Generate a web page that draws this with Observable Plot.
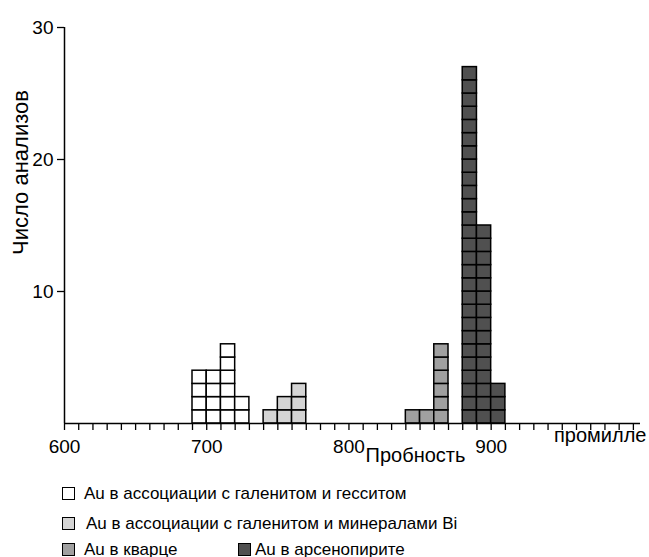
<!DOCTYPE html>
<html><head><meta charset="utf-8">
<script src="https://cdn.jsdelivr.net/npm/d3@7"></script>
<script src="https://cdn.jsdelivr.net/npm/@observablehq/plot@0.6"></script>
<style>
html,body{margin:0;padding:0;background:#fff;overflow:hidden;}
#wrap{width:649px;height:557px;position:relative;font-family:"Liberation Sans",Arial,sans-serif;color:#000;}
#chart{position:absolute;left:0;top:0;}
.leg{position:absolute;font-size:17px;line-height:17px;white-space:nowrap;color:#000;}
.sw{position:absolute;width:13px;height:13px;border:1px solid #000;box-sizing:border-box;}
</style></head><body><div id="wrap"><div id="chart"></div></div>
<script>
const seriesNames = [
  "Au в ассоциации с галенитом и гесситом",
  "Au в ассоциации с галенитом и минералами Bi",
  "Au в кварце",
  "Au в арсенопирите"
];
const seriesColors = ["#ffffff", "#d4d4d4", "#a0a0a0", "#505050"];

const hessiteBins = [690, 700, 710, 720];
const hessiteCounts = [4, 4, 6, 2];
const bismuthBins = [740, 750, 760];
const bismuthCounts = [1, 2, 3];
const quartzBins = [840, 850, 860];
const quartzCounts = [1, 1, 6];
const arsenopyriteBins = [880, 890, 900];
const arsenopyriteCounts = [27, 15, 3];

const xTicks = d3.range(600, 1001, 10);
const xTickLabels = [600, 700, 800, 900];
const yTicks = [10, 20, 30];
const binWidth = 10;

const groups = [
  [seriesNames[0], hessiteBins, hessiteCounts],
  [seriesNames[1], bismuthBins, bismuthCounts],
  [seriesNames[2], quartzBins, quartzCounts],
  [seriesNames[3], arsenopyriteBins, arsenopyriteCounts]
];
const cells = [];
for (const [series, bins, counts] of groups) {
  bins.forEach((b, j) => {
    for (let i = 0; i < counts[j]; i++) {
      cells.push({series, x1: b, x2: b + binWidth, y1: i, y2: i + 1});
    }
  });
}

const font = '"Liberation Sans", Arial, sans-serif';
const chart = Plot.plot({
  width: 649, height: 470,
  marginLeft: 64, marginRight: 9, marginTop: 27, marginBottom: 47,
  style: {fontFamily: font, fontSize: "19px", color: "#000", background: "#fff"},
  x: {domain: [600, 1005]},
  y: {domain: [0, 30]},
  color: {domain: seriesNames, range: seriesColors},
  marks: [
    Plot.rect(cells, {x1: "x1", x2: "x2", y1: "y1", y2: "y2", fill: "series", stroke: "#000", strokeWidth: 1.5}),
    Plot.ruleY([0], {strokeWidth: 1.5}),
    Plot.ruleX([600], {y1: 0, y2: 30, strokeWidth: 1.5}),
    Plot.axisX({ticks: xTicks, tickSize: 7, tickPadding: 9, strokeWidth: 1.3,
      tickFormat: d => xTickLabels.includes(d) ? String(d) : "", label: null}),
    Plot.axisY({ticks: yTicks, tickSize: 7, tickPadding: 4, strokeWidth: 1.3, label: null}),
    Plot.text(["Число анализов"], {frameAnchor: "left", textAnchor: "middle", rotate: -90, dx: -44, dy: -53, fontSize: 22}),
    Plot.text(["Пробность"], {frameAnchor: "bottom", textAnchor: "middle", dx: 63, dy: 38, fontSize: 20}),
    Plot.text(["промилле"], {frameAnchor: "bottom-right", textAnchor: "end", dy: 18, dx: 6, fontSize: 20})
  ]
});
document.getElementById("chart").appendChild(chart);

// legend (HTML below the SVG)
const wrap = document.getElementById("wrap");
const legendItems = [
  {i: 0, sx: 62, tx: 84, cy: 493},
  {i: 1, sx: 62, tx: 86, cy: 523},
  {i: 2, sx: 62, tx: 84, cy: 549},
  {i: 3, sx: 238, tx: 255, cy: 549}
];
for (const it of legendItems) {
  const sw = document.createElement("div");
  sw.className = "sw";
  sw.style.left = it.sx + "px";
  sw.style.top = (it.cy - 6.5) + "px";
  sw.style.background = seriesColors[it.i];
  wrap.appendChild(sw);
  const t = document.createElement("div");
  t.className = "leg";
  t.style.left = it.tx + "px";
  t.style.top = (it.cy - 8.5) + "px";
  t.textContent = seriesNames[it.i];
  wrap.appendChild(t);
}
</script></body></html>
